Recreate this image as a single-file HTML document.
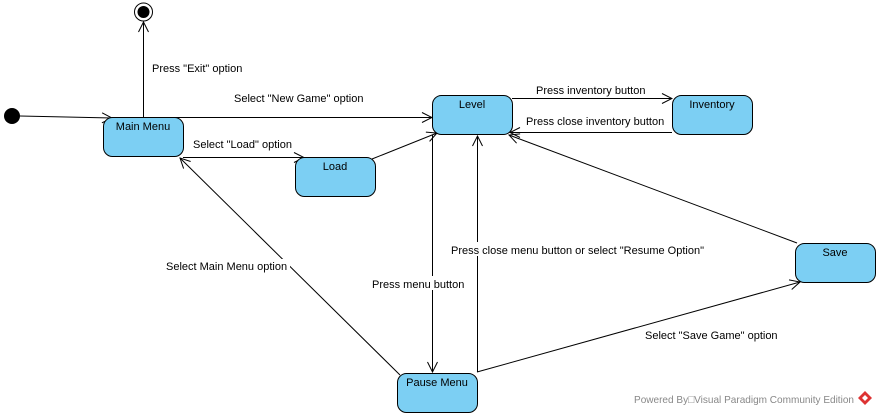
<!DOCTYPE html>
<html><head><meta charset="utf-8"><style>
html,body{margin:0;padding:0;background:#fff;}
svg{display:block;}
text{font-family:"Liberation Sans",sans-serif;font-size:11px;fill:#000;}
</style></head><body>
<svg width="878" height="416" viewBox="0 0 878 416" xmlns="http://www.w3.org/2000/svg">
<defs>
<marker id="a" markerWidth="12" markerHeight="12" refX="11" refY="6" orient="auto" markerUnits="userSpaceOnUse">
<path d="M1,1 L11,6 L1,11" fill="none" stroke="#000" stroke-width="1"/>
</marker>
</defs>
<g stroke="#000" stroke-width="1" fill="none">
<line x1="20" y1="116" x2="112" y2="118" marker-end="url(#a)"/>
<line x1="143.5" y1="117" x2="143.5" y2="22" marker-end="url(#a)"/>
<line x1="170" y1="117.5" x2="432" y2="117.5" marker-end="url(#a)"/>
<line x1="183" y1="157.5" x2="304" y2="157.5" marker-end="url(#a)"/>
<line x1="372" y1="159" x2="437" y2="133" marker-end="url(#a)"/>
<line x1="512" y1="98.5" x2="672" y2="98.5" marker-end="url(#a)"/>
<line x1="672" y1="132.5" x2="510" y2="132.5" marker-end="url(#a)"/>
<line x1="797" y1="243" x2="509" y2="135" marker-end="url(#a)"/>
<line x1="432.5" y1="135" x2="432.5" y2="372" marker-end="url(#a)"/>
<line x1="477.5" y1="372" x2="477.5" y2="136" marker-end="url(#a)"/>
<line x1="400" y1="375" x2="180" y2="158" marker-end="url(#a)"/>
<line x1="477" y1="372" x2="800" y2="282" marker-end="url(#a)"/>
</g>
<circle cx="12" cy="116" r="8" fill="#000"/>
<circle cx="143.5" cy="12" r="9" fill="#fff" stroke="#000" stroke-width="1"/>
<circle cx="143.5" cy="12" r="6" fill="#000"/>
<g fill="#7ccff3" stroke="#000" stroke-width="1">
<rect x="103.5" y="117.5" width="80" height="39" rx="9"/>
<rect x="295.5" y="157.5" width="80" height="39" rx="9"/>
<rect x="432.5" y="95.5" width="80" height="39" rx="9"/>
<rect x="672.5" y="95.5" width="80" height="39" rx="9"/>
<rect x="795.5" y="243.5" width="80" height="39" rx="9"/>
<rect x="397.5" y="373.5" width="80" height="39" rx="9"/>
</g>
<g text-anchor="middle">
<text x="143" y="130">Main Menu</text>
<text x="335" y="170">Load</text>
<text x="472" y="108">Level</text>
<text x="712" y="108">Inventory</text>
<text x="835" y="256">Save</text>
<text x="437" y="386">Pause Menu</text>
</g>
<g fill="#fff">
<rect x="150" y="60" width="96" height="14"/>
<rect x="232" y="90" width="134" height="14"/>
<rect x="191" y="137" width="102" height="14"/>
<rect x="534" y="83" width="112" height="14"/>
<rect x="524" y="114" width="140" height="14"/>
<rect x="164" y="259" width="126" height="14"/>
<rect x="370" y="276" width="96" height="14"/>
<rect x="449" y="242" width="258" height="14"/>
<rect x="643" y="327" width="136" height="14"/>
</g>
<text x="152" y="72">Press "Exit" option</text>
<text x="234" y="102">Select "New Game" option</text>
<text x="193" y="148">Select "Load" option</text>
<text x="536" y="94">Press inventory button</text>
<text x="526" y="125">Press close inventory button</text>
<text x="166" y="270">Select Main Menu option</text>
<text x="372" y="288">Press menu button</text>
<text x="451" y="254">Press close menu button or select "Resume Option"</text>
<text x="645" y="339">Select "Save Game" option</text>
<text x="634" y="403" textLength="220" lengthAdjust="spacingAndGlyphs" style="fill:#888;font-size:10.5px">Powered By□Visual Paradigm Community Edition</text>
<path d="M865,391 L872,398 L865,405 L858,398 Z" fill="#d33"/>
<path d="M865,395 L868,398 L865,401 L862,398 Z" fill="#fff"/>
</svg>
</body></html>
